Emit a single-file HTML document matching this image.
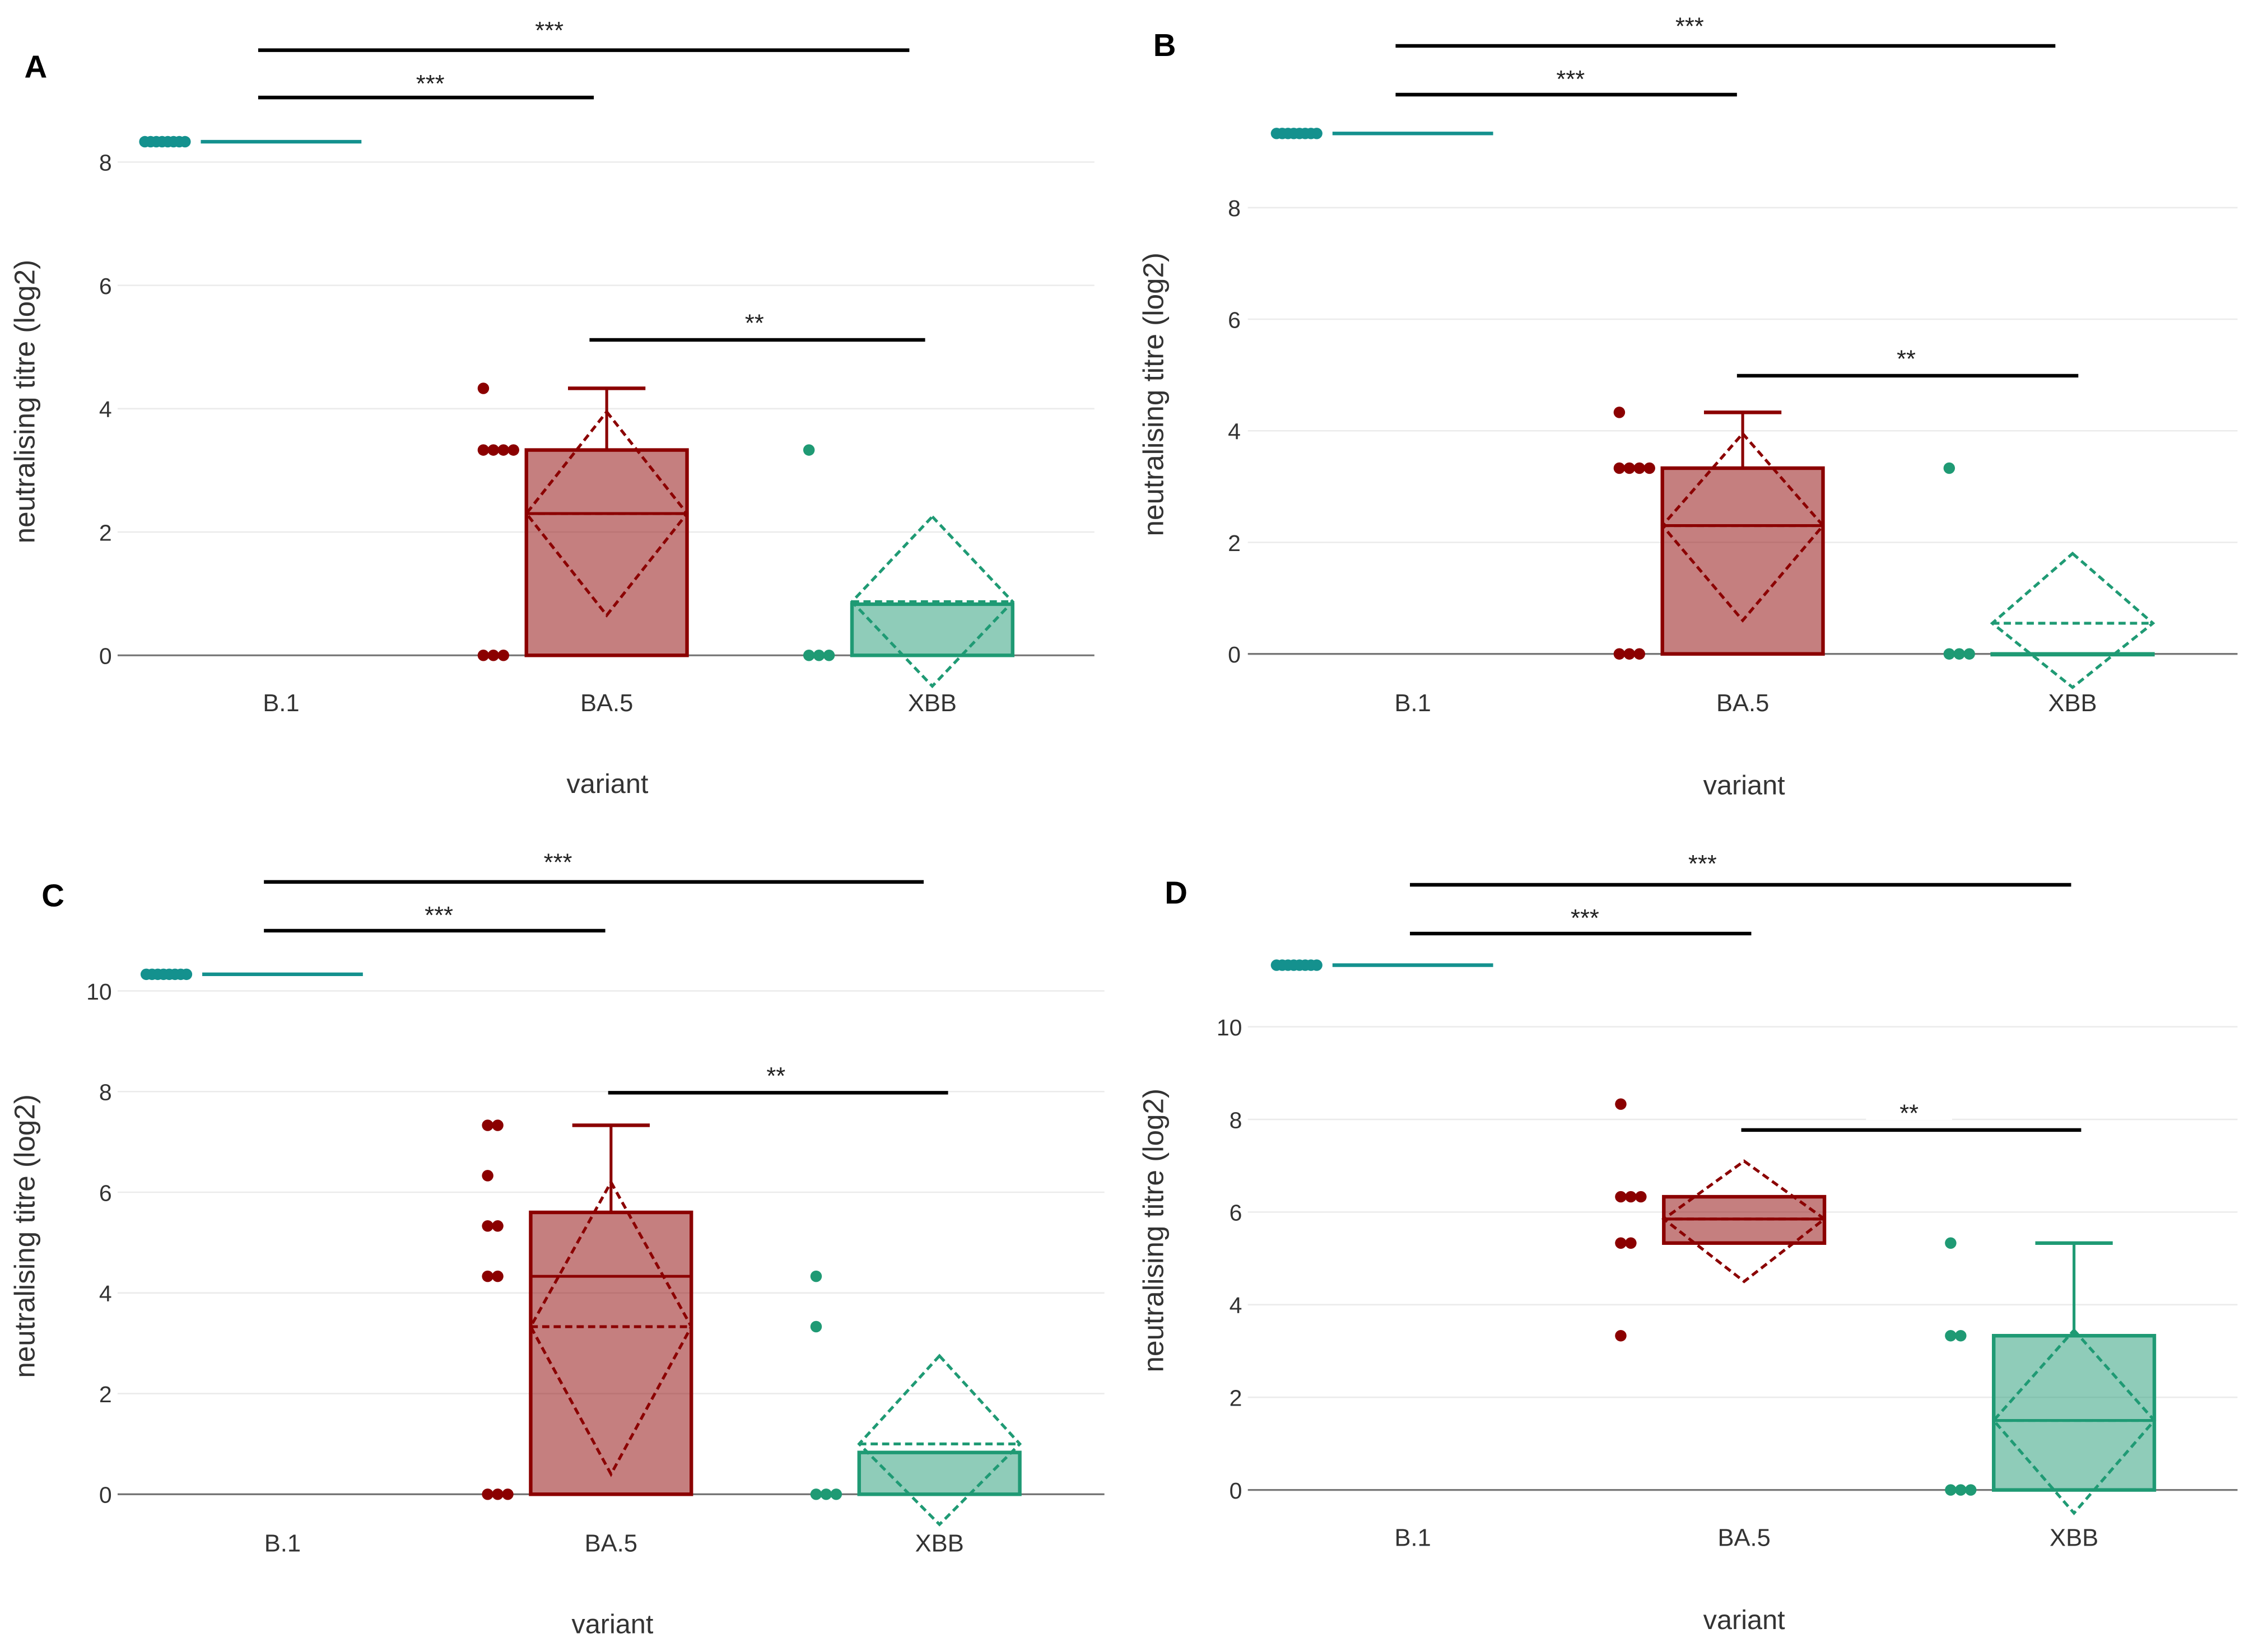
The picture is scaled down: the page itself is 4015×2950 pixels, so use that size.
<!DOCTYPE html>
<html><head><meta charset="utf-8"><style>
html,body{margin:0;padding:0;background:#fff}
svg{display:block}
text{font-family:"Liberation Sans",sans-serif}
</style></head><body>
<svg id="fig" width="4015" height="2950" viewBox="0 0 1568 1152" preserveAspectRatio="none" xmlns="http://www.w3.org/2000/svg"></svg>
<script>
// ---- data (one set of small arrays per panel) ----
const categories = ["B.1","BA.5","XBB"];
const panelLetters = ["A","B","C","D"];
// box stats: [q1, median, q3, whiskerTop]
const boxA_BA5 = [0, 2.3, 3.33, 4.33];  const boxA_XBB = [0, 0.83, 0.83, 0.83];
const boxB_BA5 = [0, 2.3, 3.33, 4.33];  const boxB_XBB = [0, 0, 0, 0];
const boxC_BA5 = [0, 4.33, 5.6, 7.33];  const boxC_XBB = [0, 0.83, 0.83, 0.83];
const boxD_BA5 = [5.33, 5.85, 6.33, 6.33]; const boxD_XBB = [0, 1.5, 3.33, 5.33];
// mean diamonds: [mean, low, high]
const meanA_BA5 = [2.3, 0.65, 3.95]; const meanA_XBB = [0.87, -0.5, 2.25];
const meanB_BA5 = [2.3, 0.6, 3.95];  const meanB_XBB = [0.55, -0.6, 1.8];
const meanC_BA5 = [3.33, 0.4, 6.2];  const meanC_XBB = [1.0, -0.6, 2.75];
const meanD_BA5 = [5.85, 4.5, 7.1];  const meanD_XBB = [1.5, -0.5, 3.45];
// individual points
const ptsA_B1 = [8.33,8.33,8.33,8.33,8.33,8.33,8.33,8.33];
const ptsA_BA5 = [4.33,3.33,3.33,3.33,3.33,0,0,0];
const ptsA_XBB = [3.33,0,0,0];
const ptsB_B1 = [9.33,9.33,9.33,9.33,9.33,9.33,9.33,9.33];
const ptsB_BA5 = [4.33,3.33,3.33,3.33,3.33,0,0,0];
const ptsB_XBB = [3.33,0,0,0];
const ptsC_B1 = [10.33,10.33,10.33,10.33,10.33,10.33,10.33,10.33];
const ptsC_BA5 = [7.33,7.33,6.33,5.33,5.33,4.33,4.33,0,0,0];
const ptsC_XBB = [4.33,3.33,0,0,0];
const ptsD_B1 = [11.33,11.33,11.33,11.33,11.33,11.33,11.33,11.33];
const ptsD_BA5 = [8.33,6.33,6.33,6.33,5.33,5.33,3.33];
const ptsD_XBB = [5.33,3.33,3.33,0,0,0];
const yTicksA = [0,2,4,6,8], yTicksB = [0,2,4,6,8], yTicksC = [0,2,4,6,8,10], yTicksD = [0,2,4,6,8,10];
const sigLabels = ["***","***","**"];

// ---- layout ----
const panels = [
 {L:"A",x0:82,x1:763,cx:[196,423,650],y0:457,pu:43.0,ticks:yTicksA,b1:ptsA_B1,ba5:ptsA_BA5,xbb:ptsA_XBB,bxR:boxA_BA5,bxG:boxA_XBB,mR:meanA_BA5,mG:meanA_XBB,
  br:[[180,634,35,383,20],[180,414,68,300,57],[411,645,237,526,224]],letter:[17,54],ylab:[18,280],tickX:78,xlabY:496,varY:553},
 {L:"B",x0:870,x1:1560,cx:[985,1215,1445],y0:456,pu:38.9,ticks:yTicksB,b1:ptsB_B1,ba5:ptsB_BA5,xbb:ptsB_XBB,bxR:boxB_BA5,bxG:boxB_XBB,mR:meanB_BA5,mG:meanB_XBB,
  br:[[973,1433,32,1178,17],[973,1211,66,1095,54],[1211,1449,262,1329,249]],letter:[804,39],ylab:[805,275],tickX:865,xlabY:496,varY:554},
 {L:"C",x0:82,x1:770,cx:[197,426,655],y0:1042,pu:35.1,ticks:yTicksC,b1:ptsC_B1,ba5:ptsC_BA5,xbb:ptsC_XBB,bxR:boxC_BA5,bxG:boxC_XBB,mR:meanC_BA5,mG:meanC_XBB,
  br:[[184,644,615,389,600],[184,422,649,306,637],[424,661,762,541,749]],letter:[29,632],ylab:[18,862],tickX:78,xlabY:1082,varY:1139},
 {L:"D",x0:870,x1:1560,cx:[985,1216,1446],y0:1039,pu:32.3,ticks:yTicksD,b1:ptsD_B1,ba5:ptsD_BA5,xbb:ptsD_XBB,bxR:boxD_BA5,bxG:boxD_XBB,mR:meanD_BA5,mG:meanD_XBB,
  br:[[983,1444,617,1187,601],[983,1221,651,1105,639],[1214,1451,788,1331,775]],letter:[812,630],ylab:[805,858],tickX:866,xlabY:1078,varY:1136,gap:true}
];
const svg = document.getElementById('fig');
const NS = "http://www.w3.org/2000/svg";
function mk(tag, attrs, parent, txt){const e=document.createElementNS(NS,tag);for(const k in attrs)e.setAttribute(k,attrs[k]);if(txt!==undefined)e.textContent=txt;(parent||svg).appendChild(e);return e;}
const RED="#8b0000", REDF="rgba(139,0,0,0.5)", GRN="#1f9a74", GRNF="rgba(31,154,116,0.5)", TEAL="#14918e";

panels.forEach(p=>{
  const y = v => p.y0 - v*p.pu;
  const g = mk('g',{});
  
  
  p.ticks.forEach(t=>{
    const gl=mk('line',{x1:p.x0,x2:p.x1,y1:y(t),y2:y(t),stroke:t===0?"#777":"#ebebeb","stroke-width":t===0?1.3:1},g);
    
    
    const tl=mk('text',{x:p.tickX,y:y(t)+6,"text-anchor":"end","font-size":16,fill:"#333"},g,String(t));
    
    
  });
  categories.forEach((c,i)=>{
    const t=mk('text',{x:p.cx[i],y:p.xlabY,"text-anchor":"middle","font-size":17,fill:"#333"},g,c);
    
    
  });
  const vt=mk('text',{x:(p.x0+p.x1)/2+1,y:p.varY,"text-anchor":"middle","font-size":19,fill:"#333"},g,"variant");
  
  
  const yt=mk('text',{x:0,y:0,transform:`translate(${p.ylab[0]+6},${p.ylab[1]}) rotate(-90)`,"text-anchor":"middle","font-size":20,fill:"#333"},g,"neutralising titre (log2)");
  
  
  const lt=mk('text',{x:p.letter[0],y:p.letter[1],"font-size":22,"font-weight":"bold",fill:"#000"},g,p.L);
  
  

  const b1x=p.cx[0];
  p.b1.forEach((v,k)=>{
    const d=mk('circle',{cx:b1x-95+k*4,cy:y(v),r:4,fill:TEAL},g);
    
    
  });
  const bl=mk('line',{x1:b1x-56,x2:b1x+56,y1:y(p.b1[0]),y2:y(p.b1[0]),stroke:TEAL,"stroke-width":2.5},g);
  
  

  [[1,p.bxR,p.mR,p.ba5,RED,REDF],[2,p.bxG,p.mG,p.xbb,GRN,GRNF]].forEach(([i,bx,mn,pts,sc,fc])=>{
    const cx=p.cx[i], hw=56;
    const nm=categories[i].toLowerCase().replace('.','');
    if(bx[3]>bx[2]){
      const w=mk('line',{x1:cx,x2:cx,y1:y(bx[2]),y2:y(bx[3]),stroke:sc,"stroke-width":2},g);
      
      
      const wc=mk('line',{x1:cx-27,x2:cx+27,y1:y(bx[3]),y2:y(bx[3]),stroke:sc,"stroke-width":2.5},g);
      
      
    }
    const r=mk('rect',{x:cx-hw,y:y(bx[2]),width:hw*2,height:Math.max(0.5,y(bx[0])-y(bx[2])),fill:fc,stroke:sc,"stroke-width":2.5},g);
    
    
    const md=mk('line',{x1:cx-hw,x2:cx+hw,y1:y(bx[1]),y2:y(bx[1]),stroke:sc,"stroke-width":2},g);
    
    
    const dm=mk('polygon',{points:`${cx},${y(mn[2])} ${cx+hw},${y(mn[0])} ${cx},${y(mn[1])} ${cx-hw},${y(mn[0])}`,fill:"none",stroke:sc,"stroke-width":2,"stroke-dasharray":"5,3"},g);
    
    
    const ml=mk('line',{x1:cx-hw,x2:cx+hw,y1:y(mn[0]),y2:y(mn[0]),stroke:sc,"stroke-width":2,"stroke-dasharray":"5,3"},g);
    
    
    const seen={};
    pts.forEach(v=>{
      const k=seen[v]||0; seen[v]=k+1;
      const d=mk('circle',{cx:cx-86+k*7,cy:y(v),r:4,fill:sc},g);
      
      
    });
  });

  p.br.forEach((b,k)=>{
    if(p.gap && k===2){
      const gr=mk('rect',{x:b[3]-30,y:b[4]-8,width:60,height:14,fill:"#fff"},g);
      
      
    }
    const l=mk('line',{x1:b[0],x2:b[1],y1:b[2],y2:b[2],stroke:"#000","stroke-width":2.5},g);
    
    
    const t=mk('text',{x:b[3],y:b[4]+7,"text-anchor":"middle","font-size":17,fill:"#222"},g,sigLabels[k]);
    
    
  });
});
</script>
</body></html>
